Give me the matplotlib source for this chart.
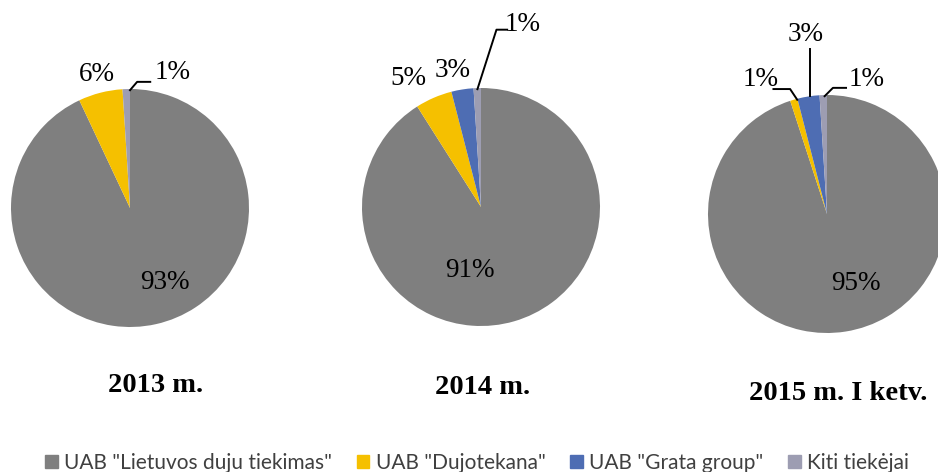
import matplotlib.pyplot as plt
from matplotlib.patches import Patch

# data
suppliers = ['UAB "Lietuvos duju tiekimas"', 'UAB "Dujotekana"',
             'UAB "Grata group"', 'Kiti tiekėjai']
colors = ['#7f7f7f', '#f5c000', '#4e6db3', '#9d9db2']
years = ['2013 m.', '2014 m.', '2015 m. I ketv.']
shares_2013 = [93, 6, 0, 1]
shares_2014 = [91, 5, 3, 1]
shares_2015 = [95, 1, 3, 1]
all_shares = [shares_2013, shares_2014, shares_2015]

# pie centres in pixels, label positions (data units, radius = 1)
W, H = 938, 472
centres = [(130, 208), (481, 207), (827, 214)]
R = 119
label_pos = [
    [(0.29, -0.63), (-0.28, 1.12), None, (0.36, 1.14)],
    [(-0.09, -0.53), (-0.61, 1.08), (-0.24, 1.15), (0.35, 1.53)],
    [(0.24, -0.58), (-0.56, 1.13), (-0.18, 1.51), (0.33, 1.13)],
]
# leader lines (list of points in data units)
leaders = [
    [None, None, None, [(0.0, 0.99), (0.06, 1.06), (0.17, 1.06)]],
    [None, None, None, [(-0.03, 0.99), (0.13, 1.49), (0.22, 1.49)]],
    [None, [(-0.25, 0.96), (-0.31, 1.05), (-0.45, 1.05)],
     [(-0.14, 0.99), (-0.14, 1.39)],
     [(-0.02, 0.99), (0.05, 1.06), (0.16, 1.06)]],
]
title_pos = [(156, 385), (483, 387), (838, 393)]

fig = plt.figure(figsize=(W / 100, H / 100), dpi=100)
box = 300
lim = box / 2 / R

for k in range(3):
    cx, cy = centres[k]
    ax = fig.add_axes([(cx - box / 2) / W, (H - cy - box / 2) / H, box / W, box / H])
    ax.pie(all_shares[k], colors=colors, startangle=90, counterclock=False,
           radius=1, wedgeprops=dict(linewidth=0))
    ax.set_xlim(-lim, lim)
    ax.set_ylim(-lim, lim)
    ax.set_aspect('equal')
    ax.axis('off')
    for i, v in enumerate(all_shares[k]):
        if label_pos[k][i] is None:
            continue
        x, y = label_pos[k][i]
        ax.text(x, y, '%d%%' % v, ha='center', va='center', fontsize=19.5,
                family='Liberation Serif', color='black', clip_on=False)
        if leaders[k][i] is not None:
            xs = [p[0] for p in leaders[k][i]]
            ys = [p[1] for p in leaders[k][i]]
            ax.plot(xs, ys, color='black', lw=1.4, clip_on=False)
    tx, ty = title_pos[k]
    fig.text(tx / W, 1 - ty / H, years[k], ha='center', va='center',
             fontsize=20.5, fontweight='bold', family='Liberation Serif')

handles = [Patch(color=c, label=s) for c, s in zip(colors, suppliers)]
fig.legend(handles=handles, loc='center', bbox_to_anchor=(477 / W, 1 - 463 / H),
           ncol=4, frameon=False, handlelength=0.6, handleheight=0.6,
           handletextpad=0.3, columnspacing=1.2,
           prop={'family': 'Lato', 'size': 15})
for t in fig.legends[0].get_texts():
    t.set_color('#404040')

fig.savefig('out.png', dpi=100)
